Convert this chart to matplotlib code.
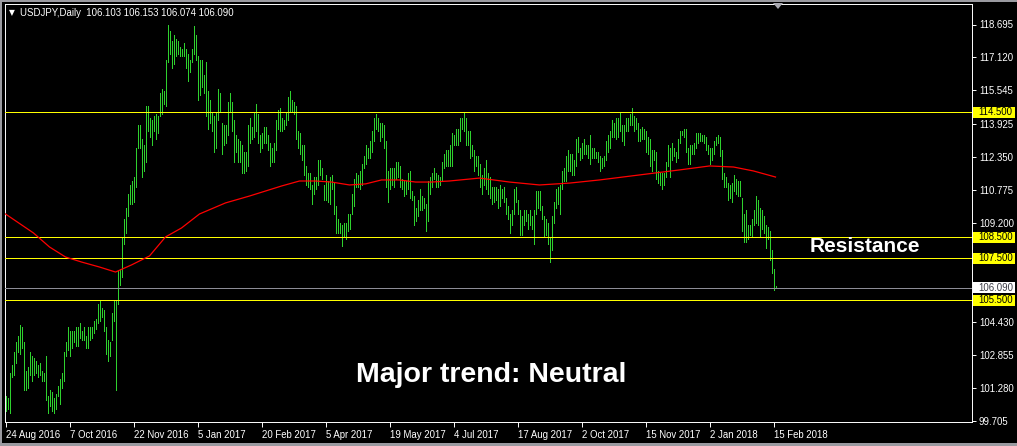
import matplotlib
matplotlib.use("Agg")
import matplotlib.pyplot as plt
from matplotlib.patches import Rectangle, Polygon

plt.rcParams['font.family'] = ['Liberation Sans', 'DejaVu Sans']

# ---------------- data (daily bars, USDJPY, 24 Aug 2016 .. 16 Feb 2018) -------------
hi_2016_08 = [100.9, 100.8, 102.0, 102.4, 103.0, 103.5]
lo_2016_08 = [100.2, 100.3, 100.1, 101.8, 101.9, 102.5]
hi_2016_09 = [103.8, 104.3, 104.2, 103.5, 102.1, 102.3, 103.0, 102.8, 102.7, 102.6, 102.4,
              102.5, 102.1, 102.0, 102.8, 100.9, 101.2, 101.1, 100.8, 101.0, 101.4, 101.7]
lo_2016_09 = [103.0, 102.9, 103.2, 101.2, 101.2, 101.3, 101.9, 101.6, 101.9, 102.0, 101.8,
              101.9, 101.6, 101.6, 100.7, 100.1, 100.4, 100.2, 100.1, 100.3, 100.9, 100.5]
hi_2016_10 = [102.0, 103.0, 103.5, 104.2, 104.0, 104.0, 104.0, 104.2, 104.2, 104.4, 104.0,
              104.2, 103.8, 104.2, 104.2, 104.2, 104.5, 104.6, 105.3, 105.5, 105.1]
lo_2016_10 = [101.3, 101.6, 102.8, 103.1, 102.8, 103.2, 103.5, 103.3, 103.3, 103.7, 103.6,
              103.6, 103.2, 103.2, 103.6, 103.7, 103.9, 104.1, 104.4, 104.5, 104.7]
hi_2016_11 = [105.0, 104.2, 103.6, 103.5, 104.9, 105.5, 105.5, 106.9, 107.0, 108.5, 109.4,
              109.9, 110.6, 111.0, 111.2, 111.4, 112.8, 113.9, 113.9, 113.2, 112.9, 114.8]
lo_2016_11 = [104.0, 102.9, 102.6, 102.8, 103.6, 104.5, 101.2, 105.3, 106.2, 106.6, 108.2,
              108.7, 109.5, 110.1, 110.1, 110.2, 110.9, 112.8, 112.8, 111.4, 111.7, 112.1]
hi_2016_12 = [114.8, 114.2, 114.1, 114.3, 114.4, 114.3, 115.4, 115.6, 115.5, 117.0, 118.66,
              118.4, 117.9, 118.2, 118.0, 117.9, 117.6, 117.5, 117.8, 117.5, 117.3, 117.0]
lo_2016_12 = [113.6, 113.3, 112.9, 113.6, 113.2, 113.5, 114.3, 114.4, 114.9, 114.8, 116.9,
              117.3, 116.6, 116.8, 117.2, 117.3, 117.2, 117.2, 117.2, 116.6, 116.0, 116.4]
hi_2017_01 = [117.5, 118.6, 118.2, 117.2, 117.0, 117.0, 116.3, 116.9, 115.5, 115.1, 114.5,
              114.3, 114.5, 115.6, 115.4, 114.0, 113.9, 113.9, 115.0, 115.4, 115.0, 114.1]
lo_2017_01 = [116.9, 117.3, 117.0, 115.1, 115.3, 115.7, 115.4, 114.3, 113.7, 114.0, 113.6,
              112.6, 112.8, 114.1, 114.5, 112.5, 112.9, 113.0, 113.4, 114.5, 113.6, 112.1]
hi_2017_02 = [113.4, 113.2, 113.1, 112.9, 112.6, 112.6, 113.9, 114.2, 113.8, 114.5,
              114.9, 114.4, 113.4, 113.5, 113.8, 113.8, 113.4, 113.0, 112.8, 113.0]
lo_2017_02 = [112.6, 112.1, 112.1, 111.6, 111.6, 111.7, 111.9, 113.0, 113.2, 113.3,
              113.6, 113.0, 112.6, 112.8, 113.0, 113.0, 112.7, 111.9, 112.1, 112.1]
hi_2017_03 = [114.1, 114.6, 114.7, 114.2, 114.1, 114.5, 115.2, 115.5, 115.1, 115.0, 114.8, 113.6,
              113.5, 112.9, 112.9, 111.9, 111.6, 111.6, 111.0, 111.4, 111.4, 112.2, 112.2]
lo_2017_03 = [112.7, 113.7, 113.6, 113.6, 113.7, 113.9, 114.1, 114.5, 114.5, 114.4, 113.2, 112.8,
              112.5, 112.2, 111.5, 111.0, 110.9, 110.8, 110.1, 110.6, 110.8, 111.0, 111.5]
hi_2017_04 = [111.8, 111.0, 111.5, 111.2, 111.4, 111.5, 111.1, 110.0, 109.4, 109.2,
              109.1, 109.2, 109.2, 109.6, 109.6, 110.6, 111.3, 111.6, 111.5, 111.7]
lo_2017_04 = [111.3, 110.3, 110.3, 110.2, 110.1, 110.8, 109.6, 108.7, 108.7, 108.7,
              108.1, 108.5, 108.4, 108.8, 108.9, 109.6, 110.0, 110.9, 110.9, 110.8]
hi_2017_05 = [112.0, 112.4, 112.9, 112.8, 113.1, 113.6, 114.2, 114.4, 114.2, 114.0, 114.0, 113.9,
              113.1, 111.7, 111.8, 111.8, 111.8, 112.1, 112.1, 111.9, 111.3, 111.2, 111.2]
lo_2017_05 = [111.0, 111.8, 112.0, 112.3, 112.3, 112.6, 113.1, 113.7, 113.6, 113.1, 113.3, 112.8,
              110.9, 110.2, 110.8, 111.0, 110.9, 111.3, 111.4, 110.9, 110.8, 110.5, 110.6]
hi_2017_06 = [111.6, 111.7, 110.7, 110.5, 109.9, 110.3, 110.8, 110.5, 110.4, 110.1, 111.2,
              111.4, 111.6, 111.8, 111.6, 111.5, 111.4, 112.1, 112.5, 112.7, 112.7, 112.9]
lo_2017_06 = [110.8, 110.4, 110.3, 109.1, 109.3, 109.5, 109.8, 109.8, 109.9, 108.8, 109.3,
              110.6, 110.9, 111.3, 110.9, 110.9, 111.0, 111.2, 111.8, 111.9, 111.9, 111.9]
hi_2017_07 = [113.5, 113.4, 113.7, 113.7, 114.2, 114.2, 114.5, 114.2, 113.6, 113.6, 112.9,
              112.7, 112.4, 112.4, 112.0, 111.5, 111.8, 112.2, 111.6, 111.4, 110.9]
lo_2017_07 = [111.9, 112.9, 112.9, 112.9, 113.1, 113.7, 113.6, 112.9, 112.9, 112.3, 112.4,
              111.7, 111.9, 111.5, 110.9, 110.6, 111.0, 110.8, 110.6, 110.4, 110.1]
hi_2017_08 = [110.9, 110.9, 110.8, 111.0, 110.8, 110.9, 110.4, 110.0, 109.6, 109.8, 110.8, 110.9,
              110.3, 109.8, 109.5, 109.8, 109.8, 109.6, 109.8, 109.5, 109.8, 110.7, 110.7]
lo_2017_08 = [110.2, 110.3, 109.9, 110.0, 110.4, 110.2, 109.6, 109.4, 108.7, 109.1, 109.6, 110.2,
              109.6, 108.6, 108.6, 109.1, 109.3, 108.9, 109.1, 108.9, 108.2, 109.6, 109.9]
hi_2017_09 = [110.7, 110.0, 109.5, 109.4, 109.2, 108.5, 109.5, 110.2, 110.8, 110.9, 111.0,
              111.7, 111.8, 112.4, 112.7, 112.5, 112.5, 112.2, 113.2, 113.3, 112.8]
lo_2017_09 = [109.8, 109.4, 108.5, 108.6, 108.2, 107.3, 107.9, 109.2, 109.9, 110.1, 109.6,
              110.8, 111.2, 111.2, 111.7, 111.7, 111.5, 111.5, 111.9, 112.6, 112.2]
hi_2017_10 = [113.0, 113.2, 112.9, 112.9, 113.4, 112.8, 112.8, 112.6, 112.6, 112.4, 112.3,
              112.4, 113.1, 113.4, 113.6, 114.1, 114.0, 114.2, 114.2, 114.5, 113.9, 113.9]
lo_2017_10 = [112.3, 112.5, 112.5, 112.3, 112.0, 112.3, 112.3, 112.3, 112.1, 111.7, 111.8,
              111.9, 112.2, 112.6, 112.8, 113.3, 113.3, 113.2, 113.3, 113.6, 113.1, 112.9]
hi_2017_11 = [114.2, 114.2, 114.4, 114.7, 114.3, 114.2, 114.0, 113.7, 113.8, 113.7, 113.6,
              113.3, 113.2, 112.7, 112.7, 112.6, 111.7, 111.6, 111.6, 111.6, 112.1, 112.9]
lo_2017_11 = [113.6, 113.6, 113.9, 113.9, 113.6, 113.7, 113.1, 113.1, 113.2, 113.2, 112.6,
              112.5, 111.9, 111.7, 112.2, 111.3, 111.1, 111.0, 110.8, 111.0, 111.4, 111.9]
hi_2017_12 = [112.8, 113.0, 112.8, 112.6, 113.2, 113.6, 113.6, 113.7, 113.7, 112.8,
              112.9, 112.9, 113.0, 113.5, 113.5, 113.5, 113.4, 113.4, 113.3, 112.9]
lo_2017_12 = [111.4, 112.2, 112.4, 112.1, 112.3, 113.0, 113.4, 113.3, 112.6, 112.0,
              112.0, 112.5, 112.5, 112.8, 113.0, 113.1, 113.1, 113.0, 112.7, 112.5]
hi_2018_01 = [112.8, 112.8, 113.1, 113.3, 113.4, 113.3, 112.7, 111.6, 111.4, 111.1, 111.0,
              111.1, 111.5, 111.3, 111.2, 111.2, 110.4, 109.6, 109.8, 109.1, 109.1, 109.4]
lo_2018_01 = [112.0, 112.2, 112.5, 112.9, 113.0, 112.4, 111.3, 110.9, 110.9, 110.3, 110.4,
              110.2, 110.7, 110.6, 110.5, 110.5, 108.8, 108.3, 108.3, 108.4, 108.6, 108.5]
hi_2018_02 = [109.8, 110.5, 110.3, 109.9, 109.8, 109.5, 109.1, 109.0, 108.8, 107.9, 107.0, 106.153]
lo_2018_02 = [109.1, 109.2, 109.1, 108.5, 108.9, 108.7, 108.0, 108.4, 107.4, 106.8, 106.0, 106.074]

highs = (hi_2016_08 + hi_2016_09 + hi_2016_10 + hi_2016_11 + hi_2016_12 + hi_2017_01 +
         hi_2017_02 + hi_2017_03 + hi_2017_04 + hi_2017_05 + hi_2017_06 + hi_2017_07 +
         hi_2017_08 + hi_2017_09 + hi_2017_10 + hi_2017_11 + hi_2017_12 + hi_2018_01 + hi_2018_02)
lows = (lo_2016_08 + lo_2016_09 + lo_2016_10 + lo_2016_11 + lo_2016_12 + lo_2017_01 +
        lo_2017_02 + lo_2017_03 + lo_2017_04 + lo_2017_05 + lo_2017_06 + lo_2017_07 +
        lo_2017_08 + lo_2017_09 + lo_2017_10 + lo_2017_11 + lo_2017_12 + lo_2018_01 + lo_2018_02)
n = min(len(highs), len(lows))
highs, lows = highs[:n], lows[:n]

# moving average (red), read at bar indices
ma_idx = [0, 14, 22, 30, 38, 47, 55, 63, 72, 80, 88, 97, 110, 122, 130, 138, 147, 155, 163,
          172, 180, 188, 197, 205, 213, 222, 237, 252, 267, 282, 297, 317, 337, 352, 364, 374, 385]
ma_val = [109.62, 108.71, 108.04, 107.56, 107.32, 107.08, 106.84, 107.18, 107.61, 108.52, 108.95,
          109.62, 110.15, 110.48, 110.72, 110.96, 111.20, 111.20, 111.15, 111.01, 111.06, 111.25,
          111.25, 111.15, 111.15, 111.20, 111.34, 111.15, 111.01, 111.10, 111.25, 111.49, 111.73,
          111.92, 111.87, 111.68, 111.39]

yellow_levels = [114.5, 108.5, 107.5, 105.5]
bid_price = 106.090
title_text = "USDJPY,Daily  106.103 106.153 106.074 106.090"

ytick_vals = [118.695, 117.120, 115.545, 113.925, 112.350, 110.775, 109.200,
              104.430, 102.855, 101.280, 99.705]
xtick_idx = [0, 32, 64, 96, 128, 160, 192, 224, 256, 288, 320, 352, 384]
xtick_lab = ["24 Aug 2016", "7 Oct 2016", "22 Nov 2016", "5 Jan 2017", "20 Feb 2017",
             "5 Apr 2017", "19 May 2017", "4 Jul 2017", "17 Aug 2017", "2 Oct 2017",
             "15 Nov 2017", "2 Jan 2018", "15 Feb 2018"]

# ---------------- layout ----------------
W, H = 1017, 446
fig = plt.figure(figsize=(W / 100, H / 100), dpi=100, facecolor='black')

def fx(px):
    return px / W

def fy(py):
    return 1 - py / H

ax_l, ax_r, ax_t, ax_b = 5, 972, 4, 422
ax = fig.add_axes([fx(ax_l), fy(ax_b), (ax_r - ax_l) / W, (ax_b - ax_t) / H])
ax.set_facecolor('black')

PPU = 20.88          # pixels per price unit
REF_P, REF_Y = 118.695, 24.5
ax.set_ylim(REF_P - (ax_b - REF_Y) / PPU, REF_P + (REF_Y - ax_t) / PPU)
ax.set_xlim(-0.25, -0.25 + (ax_r - ax_l) / 2.0)

def price_to_py(p):
    return REF_Y + (REF_P - p) * PPU

GREEN = '#2ED12E'
xs = list(range(n))
ax.vlines(xs, lows, highs, colors=GREEN, linewidth=0.5, antialiased=False, zorder=2)

for lv in yellow_levels:
    ax.axhline(lv, color='#FFFF00', linewidth=0.5, antialiased=False, zorder=3)
ax.axhline(bid_price, color='#8C8C96', linewidth=0.5, antialiased=False, zorder=3)

ax.plot(ma_idx, ma_val, color='#FF0000', linewidth=0.9, zorder=4)

for s in ax.spines.values():
    s.set_color('white')
    s.set_linewidth(0.7)

ax.yaxis.tick_right()
ax.set_yticks(ytick_vals)
ax.set_yticklabels(["%.3f" % v for v in ytick_vals])
ax.tick_params(axis='y', colors='white', length=3, width=0.7, pad=2, labelsize=6.9)
ax.set_xticks(xtick_idx)
ax.set_xticklabels(xtick_lab, ha='left')
ax.tick_params(axis='x', colors='white', length=3.5, width=0.7, pad=2, labelsize=6.9)

# price label boxes on the right
def box_label(price, fc, tc):
    py = price_to_py(price)
    fig.patches.append(Rectangle((fx(973), fy(py + 5.5)), 42 / W, 11 / H,
                                 transform=fig.transFigure, facecolor=fc,
                                 edgecolor='none', zorder=5))
    fig.text(fx(978), fy(py), "%.3f" % price, color=tc, fontsize=6.9,
             ha='left', va='center', zorder=6)

for lv in yellow_levels:
    box_label(lv, '#FFFF00', 'black')
box_label(bid_price, 'white', '#3C3C46')

# title
fig.text(fx(9), fy(13), "\u25BC", color='white', fontsize=5.5, family='DejaVu Sans',
         ha='left', va='center')
fig.text(fx(20), fy(13), title_text, color='white', fontsize=6.9, ha='left', va='center')

# shift marker at top
fig.patches.append(Polygon([[fx(773), fy(3)], [fx(783), fy(3)], [fx(778), fy(9)]],
                           closed=True, transform=fig.transFigure,
                           facecolor='#A8A8B0', edgecolor='none', zorder=6))

# annotations
fig.text(fx(865), fy(252), "Resistance", color='white', fontsize=15, fontweight='bold',
         ha='center', va='baseline')
fig.text(fx(491), fy(382), "Major trend: Neutral", color='white', fontsize=20.5,
         fontweight='bold', ha='center', va='baseline')

# outer grey frame
for rect in [(0, 0, W, 2), (0, 0, 2, H), (0, H - 3, W, 3)]:
    x0, y0, w, h = rect
    fig.patches.append(Rectangle((fx(x0), fy(y0 + h)), w / W, h / H,
                                 transform=fig.transFigure, facecolor='#9A9AA0',
                                 edgecolor='none', zorder=1))

fig.savefig('out.png', dpi=100, facecolor='black')
